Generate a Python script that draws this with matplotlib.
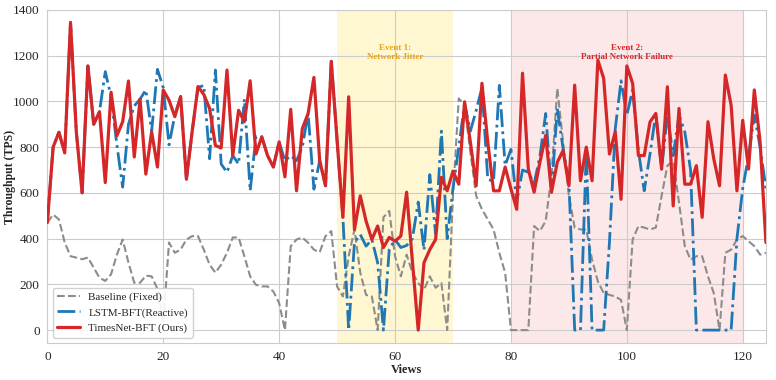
import numpy as np
import matplotlib
matplotlib.use("Agg")
import matplotlib.pyplot as plt
import seaborn as sns

views = list(range(125))

baseline = [470, 505, 484, 383, 323, 317, 310, 317, 273, 229, 215, 244, 330, 396, 295, 207, 207, 238, 235, 180,
            30, 383, 338, 352, 396, 411, 411, 352, 286, 251, 286, 338, 405, 405, 323, 235, 198, 191, 191, 169,
            118, 0, 367, 396, 405, 382, 352, 340, 411, 433, 191, 147, 323, 440, 251, 154, 147, 0, 493, 521,
            323, 235, 330, 251, 206, 176, 235, 185, 206, 0, 587, 1013, 983, 778, 587, 528, 484, 440, 338, 251,
            0, 0, 0, 0, 455, 433, 477, 675, 1057, 822, 587, 448, 440, 440, 308, 213, 162, 154, 147, 132,
            0, 396, 455, 448, 440, 448, 587, 719, 740, 559, 367, 308, 323, 323, 235, 162, 0, 338, 352, 396,
            411, 389, 367, 330, 338]

timesnet = [470, 800, 865, 775, 1345, 867, 600, 1155, 900, 955, 645, 1040, 850, 911, 1089, 757, 1010, 682, 867, 713,
            1050, 1005, 933, 1021, 660, 870, 1065, 1030, 969, 807, 797, 1137, 763, 961, 911, 1090, 770, 845, 763, 713,
            823, 670, 965, 609, 881, 947, 1105, 741, 631, 1175, 830, 493, 1020, 440, 587, 477, 396, 455, 361, 405,
            389, 411, 603, 300, 0, 295, 352, 396, 668, 609, 695, 638, 998, 822, 631, 1079, 822, 609, 609, 713,
            617, 528, 1123, 704, 603, 734, 851, 603, 734, 785, 631, 1071, 653, 800, 653, 1180, 1101, 770, 867, 572,
            1155, 1079, 763, 763, 910, 947, 704, 1064, 543, 969, 638, 638, 719, 493, 911, 749, 631, 1115, 983, 609,
            917, 704, 1050, 822, 383]

lstm = [470, 800, 865, 775, 1345, 867, 600, 1155, 900, 955, 1130, 1020, 810, 625, 900, 980, 1010, 1050, 870, 1140,
        1060, 810, 940, 1021, 660, 870, 1060, 1070, 749, 1137, 726, 690, 763, 726, 1010, 609, 845, 845, 763, 713,
        823, 740, 763, 741, 800, 947, 616, 741, 631, 1175, 830, 493, 0, 383, 418, 367, 396, 295, 0, 352,
        396, 361, 370, 400, 560, 350, 680, 420, 870, 400, 620, 800, 990, 870, 960, 1060, 660, 650, 1070, 720,
        790, 560, 700, 690, 640, 760, 947, 603, 969, 793, 650, 0, 0, 780, 0, 0, 0, 383, 880, 1090,
        940, 1050, 785, 609, 770, 947, 704, 940, 763, 940, 867, 700, 0, 0, 0, 0, 0, 0, 0, 400,
        620, 760, 940, 800, 620]

sns.set_style("whitegrid")
plt.rcParams['font.family'] = ['Liberation Serif', 'DejaVu Serif']

fig, ax = plt.subplots(figsize=(7.76, 3.80), dpi=100)
fig.subplots_adjust(left=0.061, right=0.987, top=0.974, bottom=0.097)

ax.axvspan(50, 70, color='#FFF3C4', alpha=0.75, zorder=0, lw=0)
ax.axvspan(80, 120, color='#FCE4E6', alpha=0.85, zorder=0, lw=0)

ax.plot(views, baseline, color='#8c8c8c', ls='--', lw=1.5, label='Baseline (Fixed)', zorder=2)
ax.plot(views, lstm, color='#1f77b4', ls='-.', lw=2.0, label='LSTM-BFT(Reactive)', zorder=3)
ax.plot(views, timesnet, color='#d62728', ls='-', lw=2.3, label='TimesNet-BFT (Ours)', zorder=4)

ax.text(60, 1215, 'Event 1:\nNetwork Jitter', ha='center', va='center', fontsize=6.5,
        fontweight='bold', color='#E8A317')
ax.text(100, 1215, 'Event 2:\nPartial Network Failure', ha='center', va='center', fontsize=6.5,
        fontweight='bold', color='#d62728')

ax.set_xlim(0, 124)
ax.set_ylim(-57, 1400)
ax.set_yticks(range(0, 1401, 200))
ax.set_xticks(range(0, 121, 20))
ax.tick_params(labelsize=9.5, pad=2)
ax.set_xlabel('Views', fontsize=9, fontweight='bold', labelpad=1)
ax.set_ylabel('Throughput (TPS)', fontsize=8.5, fontweight='bold')
ax.yaxis.label.set_verticalalignment('center')
ax.yaxis.set_label_coords(-0.052, 0.5)

leg = ax.legend(loc='lower left', fontsize=8, frameon=True, framealpha=0.9,
                edgecolor='#cccccc', borderaxespad=0.5, handlelength=2.0)

fig.savefig('out.png', dpi=100)
